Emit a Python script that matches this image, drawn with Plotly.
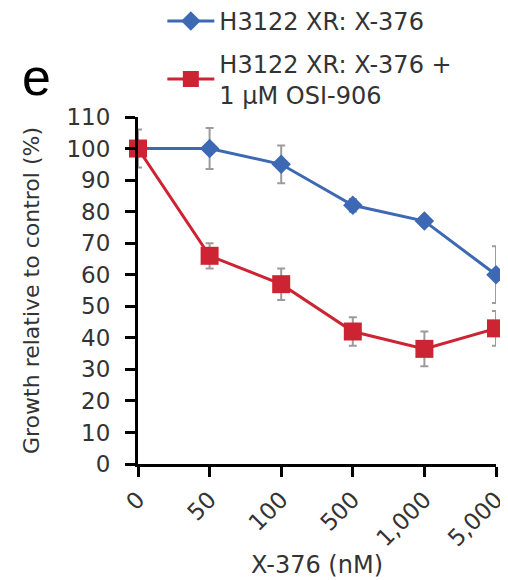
import plotly.graph_objects as go

# ---- data ----
categories = ["0", "50", "100", "500", "1,000", "5,000"]
series_a_name = "H3122 XR: X-376"
series_a = [100, 100, 95, 82, 77, 60]
series_a_err = [6, 6.5, 6, 2, 1.5, 9]
series_b_name = "H3122 XR: X-376 +<br>1 μM OSI-906"
series_b = [100, 66, 57, 42, 36.5, 43]
series_b_err = [0, 4, 5, 4.5, 5.5, 5.5]
y_ticks = list(range(0, 111, 10))

BLUE = "#3d68b3"
RED = "#cc2433"
GREY = "#9c9c9c"
FONT = "DejaVu Sans"

xpos = list(range(len(categories)))

fig = go.Figure()
fig.add_trace(go.Scatter(
    x=xpos, y=series_a, name=series_a_name, mode="lines+markers",
    legendgroup="a",
    line=dict(color=BLUE, width=3),
    marker=dict(symbol="diamond", size=15, color=BLUE),
    error_y=dict(type="data", array=series_a_err, visible=True,
                 color=GREY, thickness=2, width=4),
    cliponaxis=False,
))
fig.add_trace(go.Scatter(
    x=xpos, y=series_b, name=series_b_name, mode="lines+markers",
    legendgroup="b",
    line=dict(color=RED, width=3),
    marker=dict(symbol="square", size=18, color=RED),
    error_y=dict(type="data", array=series_b_err, visible=True,
                 color=GREY, thickness=2, width=4),
    cliponaxis=False,
))

fig.update_layout(
    width=508, height=580,
    margin=dict(l=130, r=20, t=109, b=124, autoexpand=False),
    plot_bgcolor="white", paper_bgcolor="white",
    font=dict(family=FONT, size=23, color="#222"),
    showlegend=True,
    legend=dict(x=0.068, y=1.34, xanchor="left", yanchor="top",
                font=dict(family=FONT, size=24, color="#333"),
                bgcolor="rgba(0,0,0,0)", itemwidth=47,
                traceorder="grouped", tracegroupgap=8),
    xaxis=dict(
        range=[0, len(categories) - 1], tickmode="array",
        tickvals=xpos, ticktext=categories, tickangle=-45,
        showline=True, linecolor="black", linewidth=3,
        ticks="outside", ticklen=10, tickwidth=3, tickcolor="black",
        showgrid=False, zeroline=False, automargin=False,
        tickfont=dict(family=FONT, size=23, color="#333"),
        title=dict(text="X-376 (nM)", font=dict(family=FONT, size=24, color="#333"),
                   standoff=3),
    ),
    yaxis=dict(
        range=[0, 110], tickmode="array", tickvals=y_ticks,
        showline=True, linecolor="black", linewidth=3,
        ticks="outside", ticklen=10, tickwidth=3, tickcolor="black",
        showgrid=False, zeroline=False, ticklabelstandoff=10, automargin=False,
        tickfont=dict(family=FONT, size=23, color="#333"),
        title=dict(text="Growth relative to control (%)",
                   font=dict(family=FONT, size=22, color="#333"), standoff=21),
    ),
    annotations=[dict(text="e", x=-0.33, y=1.204, xref="paper", yref="paper",
                      showarrow=False, font=dict(family="Arial", size=52, color="black"))],
)

fig.write_html("out.html")
